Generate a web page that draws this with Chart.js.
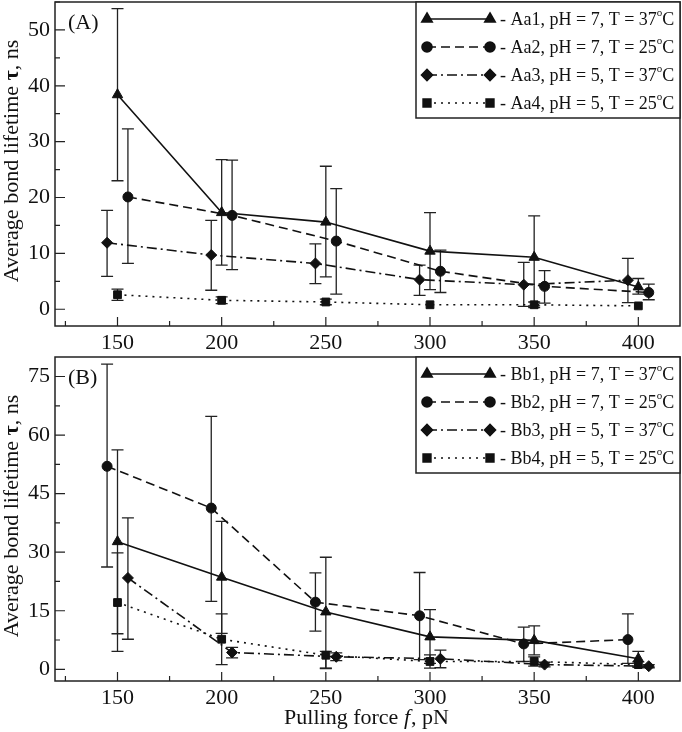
<!DOCTYPE html>
<html>
<head>
<meta charset="utf-8">
<script src="https://cdn.jsdelivr.net/npm/chart.js@4.4.1/dist/chart.umd.min.js"></script>
<style>
  body { margin: 0; background: #fff; }
  .panel { position: absolute; left: 0; width: 682px; }
  #boxA { top: 0; height: 355px; }
  #boxB { top: 355px; height: 377px; }
</style>
</head>
<body>
<div class="panel" id="boxA"><canvas id="chartA"></canvas></div>
<div class="panel" id="boxB"><canvas id="chartB"></canvas></div>
<script>
// pulling force, pN (some series are shifted by 5 pN so the error bars don't overlap)
const force = [150, 200, 250, 300, 350, 400];
const forceLeft = [145, 195, 245, 295, 345, 395];
const forceRight = [155, 205, 255, 305, 355, 405];

const xTicks = [150, 200, 250, 300, 350, 400];
const yTicksA = [0, 10, 20, 30, 40, 50];
const yTicksB = [0, 15, 30, 45, 60, 75];

// legend texts
const namesA = ['Aa1', 'Aa2', 'Aa3', 'Aa4'];
const namesB = ['Bb1', 'Bb2', 'Bb3', 'Bb4'];
const phs = [7, 7, 5, 5];
const temps = [37, 25, 37, 25];

// panel (A) - average lifetime, ns, with lower/upper error bar ends
const aa1 = [38.4, 17.3, 15.6, 10.4, 9.3, 4.0];
const aa1Lo = [23.0, 7.9, 5.8, 3.5, 0.6, 2.7];
const aa1Hi = [53.8, 26.8, 25.6, 17.3, 16.7, 5.5];
const aa2 = [20.1, 16.8, 12.2, 6.8, 4.1, 3.0];
const aa2Lo = [8.2, 7.1, 2.7, 3.0, 1.1, 1.7];
const aa2Hi = [32.3, 26.7, 21.6, 10.6, 6.9, 4.5];
const aa3 = [11.9, 9.7, 8.2, 5.3, 4.4, 5.2];
const aa3Lo = [5.9, 3.4, 4.6, 2.5, 0.5, 1.2];
const aa3Hi = [17.7, 15.9, 11.7, 7.9, 8.4, 9.1];
const aa4 = [2.6, 1.6, 1.3, 0.8, 0.8, 0.6];
const aa4Lo = [1.6, 1.0, 0.8, 0.8, 0.3, 0.6];
const aa4Hi = [3.6, 2.2, 1.8, 0.8, 1.3, 0.6];

// panel (B)
const bb1 = [32.7, 23.6, 14.7, 8.3, 7.4, 2.7];
const bb1Lo = [4.6, 9.2, 0.2, 1.5, 3.7, 0.8];
const bb1Hi = [56.2, 37.9, 28.7, 15.3, 11.1, 4.6];
const bb2 = [52.0, 41.3, 17.2, 13.7, 6.5, 7.6];
const bb2Lo = [26.2, 17.4, 9.8, 2.5, 2.0, 1.5];
const bb2Hi = [78.2, 64.8, 24.7, 24.8, 10.8, 14.2];
const bb3 = [23.4, 4.3, 3.2, 2.7, 1.2, 0.8];
const bb3Lo = [7.7, 2.9, 2.2, 0.4, 0.6, 0.4];
const bb3Hi = [38.8, 5.6, 4.2, 4.9, 1.8, 1.2];
const bb4 = [17.1, 7.7, 3.6, 2.0, 2.0, 1.2];
const bb4Lo = [9.1, 1.2, 0.3, 0.3, 0.8, 0.5];
const bb4Hi = [29.8, 14.2, 4.6, 3.7, 3.2, 1.9];

const INK = '#111';
const SERIF = '"Liberation Serif", "DejaVu Serif", serif';

// line / marker look for series 1..4
const looks = [
  { dash: [], point: 'triangle', r: 6 },
  { dash: [9, 5], point: 'circle', r: 5 },
  { dash: [10, 4, 2, 4], point: 'rectRot', r: 5.5 },
  { dash: [2, 5], point: 'rect', r: 5.5 }
];

function series(xs, ys, lo, hi, i) {
  return {
    data: xs.map((x, k) => ({ x: x, y: ys[k] })),
    errLo: lo,
    errHi: hi,
    borderColor: INK,
    backgroundColor: INK,
    borderWidth: 1.6,
    borderDash: looks[i].dash,
    pointStyle: looks[i].point,
    pointRadius: looks[i].r,
    pointBorderWidth: 1,
    tension: 0
  };
}

// error bars, inward ticks, frame, legend and titles
const decor = {
  id: 'decor',
  beforeDatasetsDraw(chart) {
    const ctx = chart.ctx;
    const xs = chart.scales.x, ys = chart.scales.y;
    ctx.save();
    ctx.strokeStyle = '#222';
    ctx.lineWidth = 1.3;
    ctx.setLineDash([]);
    chart.data.datasets.forEach(ds => {
      ds.data.forEach((p, k) => {
        const px = xs.getPixelForValue(p.x);
        const top = ys.getPixelForValue(ds.errHi[k]);
        const bot = ys.getPixelForValue(ds.errLo[k]);
        if (bot - top < 1) return;
        ctx.beginPath();
        ctx.moveTo(px, top); ctx.lineTo(px, bot);
        ctx.moveTo(px - 6, top); ctx.lineTo(px + 6, top);
        ctx.moveTo(px - 6, bot); ctx.lineTo(px + 6, bot);
        ctx.stroke();
      });
    });
    ctx.restore();
  },
  afterDraw(chart, args, o) {
    const ctx = chart.ctx;
    const a = chart.chartArea;
    const xs = chart.scales.x, ys = chart.scales.y;
    ctx.save();
    ctx.strokeStyle = '#222';
    ctx.lineWidth = 1.5;
    ctx.setLineDash([]);
    ctx.strokeRect(a.left, a.top, a.right - a.left, a.bottom - a.top);

    // x ticks (major every 50, minor every 25), pointing inward
    ctx.lineWidth = 1.2;
    ctx.beginPath();
    for (let v = 125; v <= 400; v += 25) {
      const px = xs.getPixelForValue(v);
      const len = v % 50 === 0 ? 9 : 5;
      ctx.moveTo(px, a.bottom); ctx.lineTo(px, a.bottom - len);
    }
    for (let v = 0; v <= ys.max; v += o.minor) {
      const py = ys.getPixelForValue(v);
      const len = Math.abs(v / o.major - Math.round(v / o.major)) < 1e-6 ? 10 : 5;
      ctx.moveTo(a.left, py); ctx.lineTo(a.left + len, py);
    }
    ctx.stroke();

    ctx.fillStyle = INK;
    ctx.font = '22px ' + SERIF;
    ctx.textBaseline = 'middle';
    ctx.textAlign = 'left';
    ctx.fillText(o.tag, a.left + 13, a.top + 21);

    // y title with bold tau
    ctx.save();
    ctx.translate(12, (a.top + a.bottom) / 2 - 3);
    ctx.rotate(-Math.PI / 2);
    const p1 = 'Average bond lifetime ', p3 = ', ns';
    ctx.font = '22px ' + SERIF;
    const w1 = ctx.measureText(p1).width, w3 = ctx.measureText(p3).width;
    ctx.font = 'bold 22px ' + SERIF;
    const w2 = ctx.measureText('τ').width;
    let x0 = -(w1 + w2 + w3) / 2;
    ctx.font = '22px ' + SERIF;
    ctx.fillText(p1, x0, 0);
    ctx.font = 'bold 22px ' + SERIF;
    ctx.fillText('τ', x0 + w1, 0);
    ctx.font = '22px ' + SERIF;
    ctx.fillText(p3, x0 + w1 + w2, 0);
    ctx.restore();

    // x title
    if (o.xTitle) {
      const cy = a.bottom + 37;
      const q1 = 'Pulling force ', q3 = ', pN';
      ctx.font = '22px ' + SERIF;
      const v1 = ctx.measureText(q1).width, v3 = ctx.measureText(q3).width;
      ctx.font = 'italic 22px ' + SERIF;
      const v2 = ctx.measureText('f').width;
      let x0 = 366 - (v1 + v2 + v3) / 2;
      ctx.font = '22px ' + SERIF;
      ctx.fillText(q1, x0, cy);
      ctx.font = 'italic 22px ' + SERIF;
      ctx.fillText('f', x0 + v1, cy);
      ctx.font = '22px ' + SERIF;
      ctx.fillText(q3, x0 + v1 + v2 + 1, cy);
    }

    // legend box
    const lw = 264, lh = 116;
    const lx = a.right - lw, ly = a.top;
    ctx.fillStyle = '#fff';
    ctx.fillRect(lx, ly, lw, lh);
    ctx.strokeStyle = '#222';
    ctx.lineWidth = 1.5;
    ctx.strokeRect(lx, ly, lw, lh);
    chart.data.datasets.forEach((ds, i) => {
      const cy = ly + 17 + i * 28;
      const x1 = lx + 11, x2 = lx + 74;
      ctx.strokeStyle = INK;
      ctx.lineWidth = 1.6;
      ctx.setLineDash(looks[i].dash);
      ctx.beginPath();
      ctx.moveTo(x1, cy); ctx.lineTo(x2, cy);
      ctx.stroke();
      ctx.setLineDash([]);
      ctx.fillStyle = INK;
      Chart.helpers.drawPoint(ctx, { pointStyle: looks[i].point, radius: looks[i].r, borderWidth: 1 }, x1, cy);
      ctx.fill();
      Chart.helpers.drawPoint(ctx, { pointStyle: looks[i].point, radius: looks[i].r, borderWidth: 1 }, x2, cy);
      ctx.fill();
      ctx.fillStyle = INK;
      ctx.font = '18px ' + SERIF;
      const txt = '- ' + o.names[i] + ', pH = ' + phs[i] + ', T = ' + temps[i];
      let tx = lx + 84;
      ctx.fillText(txt, tx, cy + 1);
      tx += ctx.measureText(txt).width;
      ctx.font = '11px ' + SERIF;
      ctx.fillText('o', tx, cy - 6);
      tx += ctx.measureText('o').width;
      ctx.font = '18px ' + SERIF;
      ctx.fillText('C', tx, cy + 1);
    });
    ctx.restore();
  }
};

function makeChart(id, datasets, yMax, yTicks, opts, axisH) {
  return new Chart(document.getElementById(id), {
    type: 'line',
    data: { datasets: datasets },
    plugins: [decor],
    options: {
      responsive: true,
      maintainAspectRatio: false,
      animation: false,
      layout: { autoPadding: false, padding: { top: 2, right: 2, left: 0, bottom: 0 } },
      plugins: { legend: { display: false }, tooltip: { enabled: false }, decor: opts },
      scales: {
        x: {
          type: 'linear',
          min: 120,
          max: 420,
          grid: { display: false, drawTicks: false },
          border: { display: false },
          afterBuildTicks: s => { s.ticks = xTicks.map(v => ({ value: v })); },
          afterFit: s => { s.height = axisH; s.paddingLeft = 0; s.paddingRight = 0; },
          ticks: { color: INK, padding: 4, maxRotation: 0, font: { family: SERIF, size: 22 } }
        },
        y: {
          type: 'linear',
          min: -3,
          max: yMax,
          grid: { display: false, drawTicks: false },
          border: { display: false },
          afterBuildTicks: s => { s.ticks = yTicks.map(v => ({ value: v })); },
          afterFit: s => { s.width = 55; s.paddingTop = 0; s.paddingBottom = 0; },
          ticks: { color: INK, padding: 5, font: { family: SERIF, size: 22 } }
        }
      }
    }
  });
}

makeChart('chartA', [
  series(force, aa1, aa1Lo, aa1Hi, 0),
  series(forceRight, aa2, aa2Lo, aa2Hi, 1),
  series(forceLeft, aa3, aa3Lo, aa3Hi, 2),
  series(force, aa4, aa4Lo, aa4Hi, 3)
], 55, yTicksA, { tag: '(A)', names: namesA, major: 10, minor: 5, xTitle: false }, 29);

makeChart('chartB', [
  series(force, bb1, bb1Lo, bb1Hi, 0),
  series(forceLeft, bb2, bb2Lo, bb2Hi, 1),
  series(forceRight, bb3, bb3Lo, bb3Hi, 2),
  series(force, bb4, bb4Lo, bb4Hi, 3)
], 80, yTicksB, { tag: '(B)', names: namesB, major: 15, minor: 7.5, xTitle: true }, 51);
</script>
</body>
</html>
